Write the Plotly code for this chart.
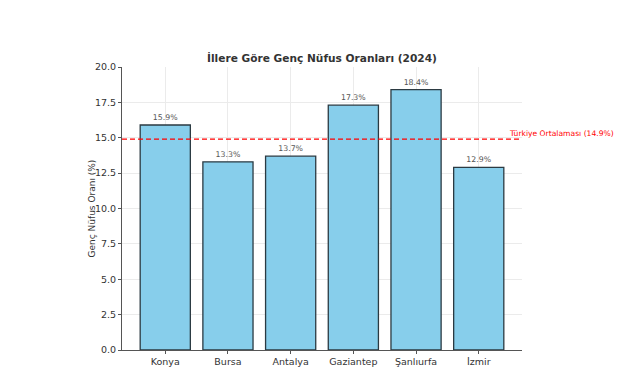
import plotly.graph_objects as go

cities = ["Konya", "Bursa", "Antalya", "Gaziantep", "Şanlıurfa", "İzmir"]
values = [15.9, 13.3, 13.7, 17.3, 18.4, 12.9]
avg = 14.9
yticks = [0.0, 2.5, 5.0, 7.5, 10.0, 12.5, 15.0, 17.5, 20.0]

font = "DejaVu Sans"
fig = go.Figure()
fig.add_trace(go.Bar(
    x=list(range(len(cities))), y=values, width=0.8,
    marker=dict(color="#87CEEB", line=dict(color="#2b3a42", width=1.3)),
    text=[f"{v:.1f}%" for v in values], textposition="outside",
    textfont=dict(size=7.8, color="#555555", family=font),
    cliponaxis=False, showlegend=False,
))
fig.add_shape(type="line", xref="paper", x0=0, x1=1, yref="y", y0=avg, y1=avg,
              line=dict(color="#ff0000", width=1.4, dash="5px,3px"))
fig.add_annotation(x=5.45, y=avg, xref="x", yref="y", xanchor="left", yanchor="bottom",
                   text=f"Türkiye Ortalaması ({avg}%)", showarrow=False,
                   font=dict(size=7.6, color="red", family=font), yshift=-1)
fig.add_annotation(x=0, y=0.5, xref="paper", yref="paper", xanchor="center", yanchor="middle",
                   xshift=-31, textangle=-90, text="Genç Nüfus Oranı (%)", showarrow=False,
                   font=dict(size=9, color="#333333", family=font))
fig.update_layout(
    width=627, height=373,
    margin=dict(l=122, r=105, t=67, b=23, autoexpand=False),
    plot_bgcolor="white", paper_bgcolor="white",
    font=dict(family=font, color="#333333"),
    title=dict(text="<b>İllere Göre Genç Nüfus Oranları (2024)</b>", x=0.5, xanchor="center",
               xref="paper", y=1 - 58 / 373, yanchor="middle", font=dict(size=10.6, color="#333333")),
    bargap=0.2,
)
fig.update_xaxes(range=[-0.69, 5.69], tickvals=list(range(len(cities))), ticktext=cities,
                 showgrid=True, gridcolor="#ebebeb", gridwidth=0.8, automargin=False,
                 showline=True, linecolor="#555555", linewidth=1,
                 ticks="outside", ticklen=3, tickcolor="#555555",
                 tickfont=dict(size=9.5, color="#333333"), zeroline=False)
fig.update_yaxes(range=[0, 20], tickvals=yticks, ticktext=[f"{t:.1f}" for t in yticks],
                 showgrid=True, gridcolor="#ebebeb", gridwidth=0.8, automargin=False,
                 showline=True, linecolor="#555555", linewidth=1,
                 ticks="outside", ticklen=3, tickcolor="#555555",
                 tickfont=dict(size=9.5, color="#333333"), zeroline=False)
fig.write_html("out.html", config={"displayModeBar": False},
               post_script="document.body.style.margin='0';document.body.style.padding='0';")
